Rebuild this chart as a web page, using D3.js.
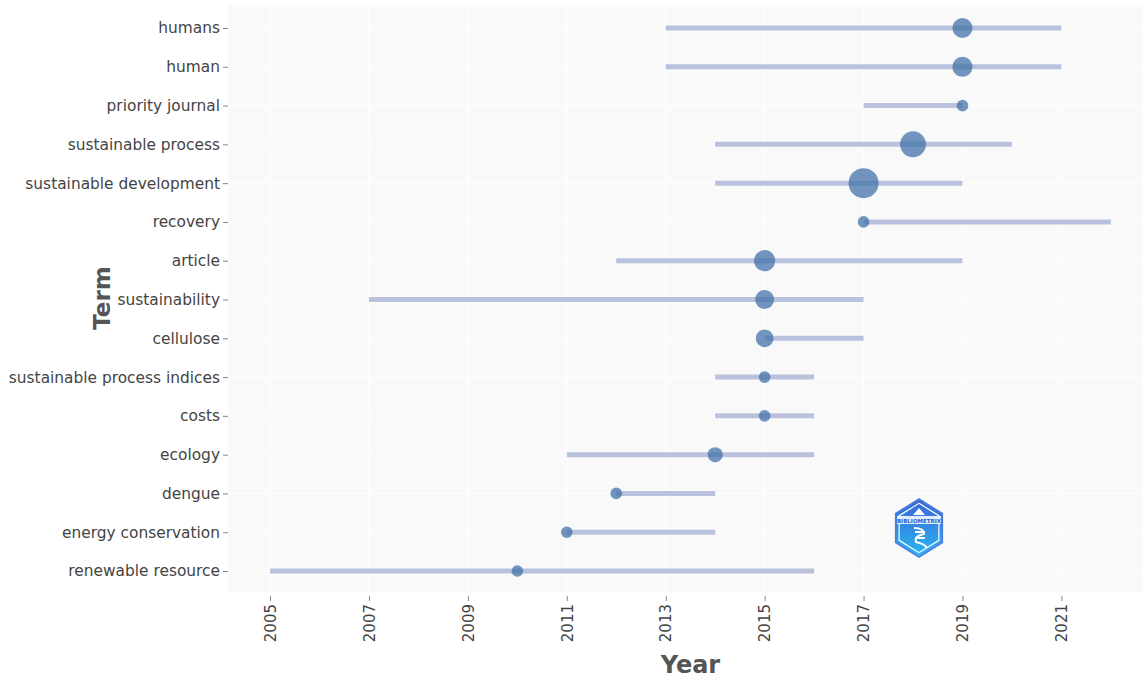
<!DOCTYPE html>
<html>
<head>
<meta charset="utf-8">
<script src="https://cdn.jsdelivr.net/npm/d3@7"></script>
<style>
  body { margin: 0; background: #fff; }
  text { font-family: "DejaVu Sans", Verdana, sans-serif; }
</style>
</head>
<body>
<div id="chart"></div>
<script>
// terms, top to bottom
var terms = ["humans", "human", "priority journal", "sustainable process", "sustainable development",
  "recovery", "article", "sustainability", "cellulose", "sustainable process indices",
  "costs", "ecology", "dengue", "energy conservation", "renewable resource"];
// first quartile, median and third quartile year of each term
var yearQ1  = [2013, 2013, 2017, 2014, 2014, 2017, 2012, 2007, 2015, 2014, 2014, 2011, 2012, 2011, 2005];
var yearMed = [2019, 2019, 2019, 2018, 2017, 2017, 2015, 2015, 2015, 2015, 2015, 2014, 2012, 2011, 2010];
var yearQ3  = [2021, 2021, 2019, 2020, 2019, 2022, 2019, 2017, 2017, 2016, 2016, 2016, 2014, 2014, 2016];
// term frequency (bubble size)
var freq    = [9, 9, 3, 15, 20, 3, 10, 8, 7, 3, 3, 5, 3, 3, 3];
var xTicks  = [2005, 2007, 2009, 2011, 2013, 2015, 2017, 2019, 2021];

var data = terms.map(function(t, i) {
  return {term: t, q1: yearQ1[i], med: yearMed[i], q3: yearQ3[i], freq: freq[i]};
});

var W = 1145, H = 678;
var margin = {top: 5, right: 2, bottom: 86, left: 228};
var width = W - margin.left - margin.right,
    height = H - margin.top - margin.bottom;

var svg = d3.select("#chart").append("svg")
  .attr("width", W).attr("height", H);
var g = svg.append("g")
  .attr("transform", "translate(" + margin.left + "," + margin.top + ")");

var x = d3.scaleLinear().domain([2004.15, 2022.65]).range([0, width]);
var y = d3.scalePoint().domain(terms).range([23, height - 21]);
var r = d3.scaleSqrt().domain([0, 20]).range([0, 15]);

// panel background
g.append("rect").attr("width", width).attr("height", height).attr("fill", "#f9f9f9");

// grid
g.selectAll(".vgrid").data(xTicks).enter().append("line")
  .attr("x1", function(d) { return x(d); }).attr("x2", function(d) { return x(d); })
  .attr("y1", 0).attr("y2", height)
  .attr("stroke", "#ffffff").attr("stroke-width", 1);
g.selectAll(".hgrid").data(terms).enter().append("line")
  .attr("x1", 0).attr("x2", width)
  .attr("y1", function(d) { return y(d); }).attr("y2", function(d) { return y(d); })
  .attr("stroke", "#ffffff").attr("stroke-width", 1);

// Q1 - Q3 segments
g.selectAll(".seg").data(data).enter().append("line")
  .attr("x1", function(d) { return x(d.q1); })
  .attr("x2", function(d) { return x(d.q3); })
  .attr("y1", function(d) { return y(d.term); })
  .attr("y2", function(d) { return y(d.term); })
  .attr("stroke", "#b9c1dc").attr("stroke-width", 5);

// median bubbles
g.selectAll(".dot").data(data).enter().append("circle")
  .attr("cx", function(d) { return x(d.med); })
  .attr("cy", function(d) { return y(d.term); })
  .attr("r", function(d) { return r(d.freq); })
  .attr("fill", "#4272a8").attr("fill-opacity", 0.75);

// y axis
var yAxis = g.append("g")
  .call(d3.axisLeft(y).tickSize(5).tickPadding(3));
yAxis.select(".domain").remove();
yAxis.selectAll("line").attr("stroke", "#888");
yAxis.selectAll("text").attr("fill", "#444").style("font-size", "15.4px");

// x axis
var xAxis = g.append("g")
  .attr("transform", "translate(0," + height + ")")
  .call(d3.axisBottom(x).tickValues(xTicks).tickFormat(d3.format("d")).tickSize(5).tickPadding(4));
xAxis.select(".domain").remove();
xAxis.selectAll("line").attr("stroke", "#888").attr("y1", 4).attr("y2", 9);
xAxis.selectAll("text")
  .attr("fill", "#444").style("font-size", "15px")
  .attr("transform", "rotate(-90)")
  .attr("text-anchor", "end")
  .attr("x", -12).attr("y", 0).attr("dy", "0.35em");

// axis titles
svg.append("text")
  .attr("x", margin.left + x(2013.5)).attr("y", 673)
  .attr("text-anchor", "middle")
  .attr("fill", "#555").style("font-size", "24px").style("font-weight", "bold")
  .text("Year");
svg.append("text")
  .attr("transform", "translate(110,298) rotate(-90)")
  .attr("text-anchor", "middle")
  .attr("fill", "#555").style("font-size", "23px").style("font-weight", "bold")
  .text("Term");

// bibliometrix-like logo
var defs = svg.append("defs");
var grad = defs.append("linearGradient").attr("id", "lg").attr("x1", 0).attr("y1", 0).attr("x2", 0).attr("y2", 1);
grad.append("stop").attr("offset", "0%").attr("stop-color", "#3b63d6");
grad.append("stop").attr("offset", "100%").attr("stop-color", "#29b8f0");
var logo = svg.append("g").attr("transform", "translate(919,528)");
var hex = d3.range(6).map(function(i) {
  var a = Math.PI / 3 * i - Math.PI / 2;
  return [27 * Math.cos(a), 29 * Math.sin(a)];
});
logo.append("polygon").attr("points", hex.join(" "))
  .attr("fill", "url(#lg)").attr("stroke", "#4c7fe0").attr("stroke-width", 1.5);
logo.append("polygon").attr("points", hex.map(function(p) { return [p[0] * 0.85, p[1] * 0.85]; }).join(" "))
  .attr("fill", "none").attr("stroke", "#ffffff").attr("stroke-width", 1.2);
logo.append("rect").attr("x", -22).attr("y", -12).attr("width", 44).attr("height", 8).attr("fill", "#ffffff").attr("fill-opacity", 0.85);
logo.append("text").attr("x", 0).attr("y", -5.5).attr("text-anchor", "middle")
  .attr("fill", "#2f5fc8").style("font-size", "5.5px").style("font-weight", "bold").text("BIBLIOMETRIX");
logo.append("path").attr("d", "M-6,-13 L0,-20 L6,-13 Z").attr("fill", "#ffffff");
logo.append("path").attr("d", "M-5,0 Q5,0 5,6 Q-5,8 -3,14 Q6,16 8,20 M-4,4 L6,4 M-4,10 L6,10")
  .attr("fill", "none").attr("stroke", "#ffffff").attr("stroke-width", 2);
</script>
</body>
</html>
